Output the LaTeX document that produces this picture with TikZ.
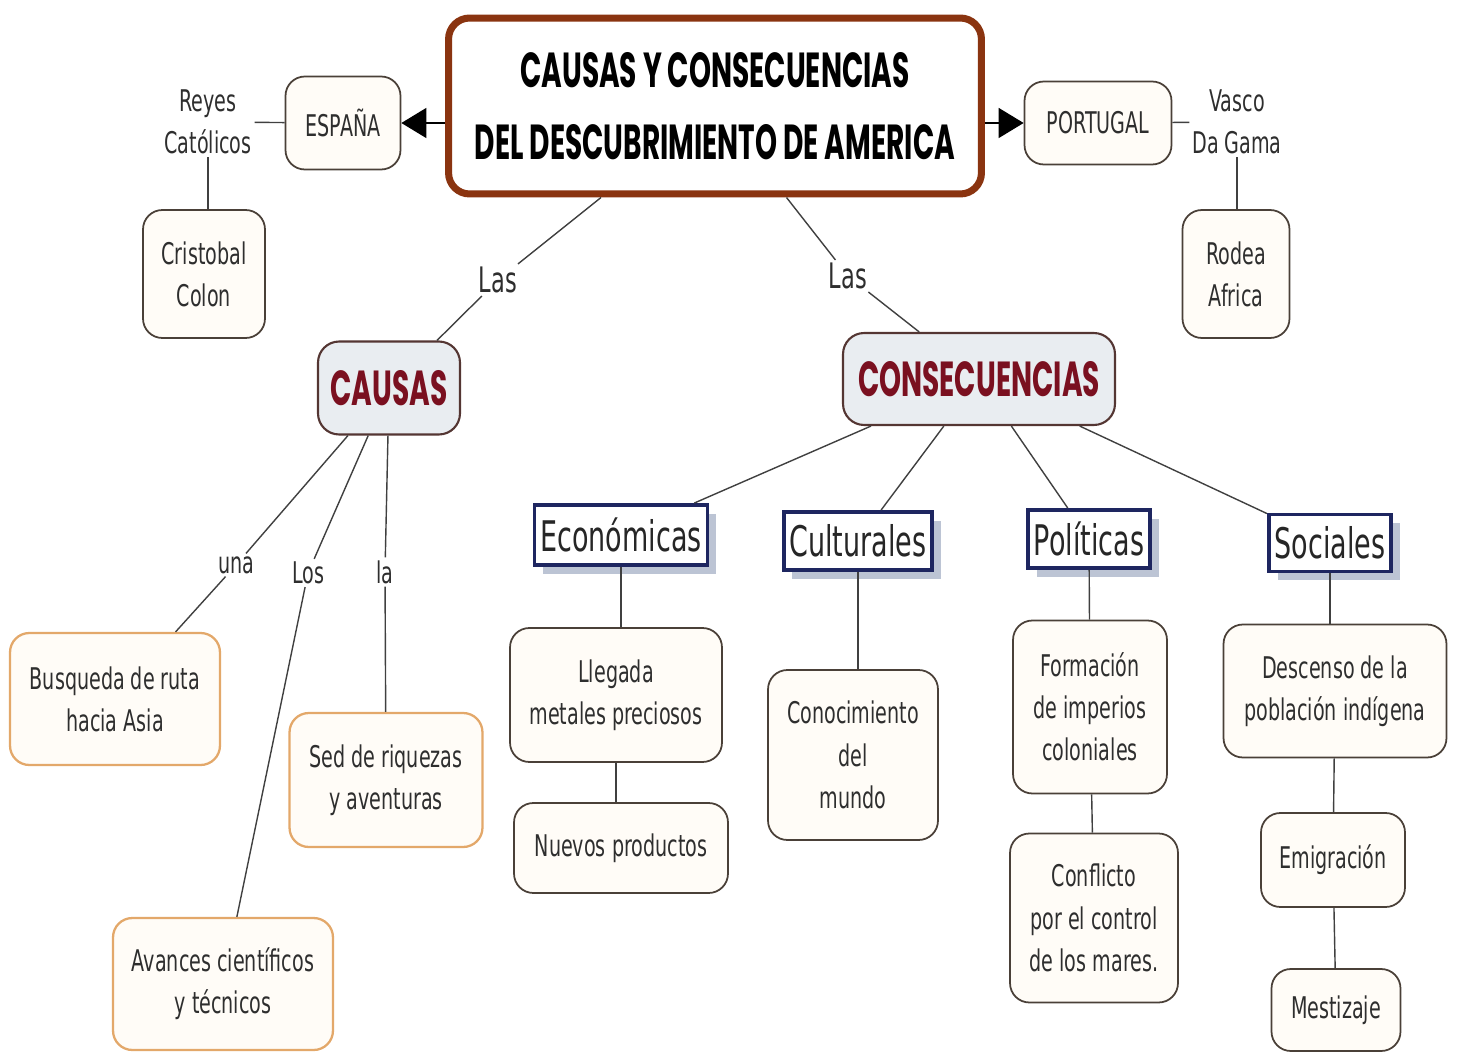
\documentclass[tikz,border=0pt]{standalone}
\usepackage{fontspec}
\setmainfont{DejaVu Sans}[FakeStretch=0.64]
\newfontfamily\titlefont{Poppins}[FakeStretch=0.57]
\usepackage{tikz}
\usetikzlibrary{arrows.meta,shadows}
\definecolor{titleborder}{HTML}{8A3410}
\definecolor{mainred}{HTML}{7A1020}
\definecolor{mainfill}{HTML}{E9EDF1}
\definecolor{catblue}{HTML}{1E2660}
\definecolor{catshadow}{HTML}{BCC4D4}
\definecolor{leafborder}{HTML}{4A4038}
\definecolor{leaffill}{HTML}{FFFCF7}
\definecolor{causeborder}{HTML}{E3A86A}
\definecolor{inktext}{HTML}{2E2E2E}

\begin{document}
\begin{tikzpicture}[x=0.02cm, y=-0.02cm,
  titlebox/.style={draw=titleborder, line width=4pt, rounded corners=12pt, fill=white, align=center, font=\titlefont\bfseries\fontsize{28}{41}\selectfont},
  mainbox/.style={draw=leafborder!80!mainred, line width=1.2pt, rounded corners=12pt, fill=mainfill, text=mainred, font=\titlefont\bfseries\fontsize{28}{34}\selectfont},
  catbox/.style={draw=catblue, line width=2.2pt, fill=white, text=black!85, font=\fontsize{24}{28}\selectfont, drop shadow={fill=catshadow, shadow xshift=5pt, shadow yshift=-5pt, opacity=1}},
  leaf/.style={draw=leafborder, line width=1pt, rounded corners=11pt, fill=leaffill, align=center, text=inktext, font=\fontsize{17}{24}\selectfont},
  causeleaf/.style={leaf, draw=causeborder, line width=1.3pt},
  lbl/.style={fill=white, inner sep=1.5pt, align=center, text=inktext, font=\fontsize{17}{24}\selectfont},
  biglbl/.style={lbl, font=\fontsize{20}{24}\selectfont},
  con/.style={draw=black!75, line width=0.8pt},
  arr/.style={draw=black, line width=0.8pt, -{Triangle[length=5mm, width=6mm]}}
]
  \useasboundingbox (0,0) rectangle (1458,1054);

  % top: title with Spain and Portugal
  \node[titlebox, minimum width=10.66cm, minimum height=3.52cm] (title) at (715,106) {CAUSAS Y CONSECUENCIAS\\DEL DESCUBRIMIENTO DE AMERICA};
  \node[leaf, minimum width=2.3cm, minimum height=1.86cm] (espana) at (343,123) {ESPAÑA};
  \node[leaf, minimum width=2.94cm, minimum height=1.66cm] (portugal) at (1098,123) {PORTUGAL};
  \node[lbl] (reyes) at (208,122) {Reyes\\Católicos};
  \node[lbl] (vasco) at (1237,122) {Vasco\\Da Gama};
  \node[leaf, minimum width=2.44cm, minimum height=2.56cm] (colon) at (204,274) {Cristobal\\Colon};
  \node[leaf, minimum width=2.14cm, minimum height=2.56cm] (africa) at (1236,274) {Rodea\\Africa};

  % causes and consequences
  \node[biglbl] (las1) at (498,280) {Las};
  \node[biglbl] (las2) at (848,276) {Las};
  \node[mainbox, minimum width=2.84cm, minimum height=1.86cm] (causas) at (389,388) {CAUSAS};
  \node[mainbox, minimum width=5.44cm, minimum height=1.84cm] (consec) at (979,379) {CONSECUENCIAS};

  % causes
  \node[lbl] (una) at (236,565) {una};
  \node[lbl] (los) at (308,573) {Los};
  \node[lbl] (la) at (385,572) {la};
  \node[causeleaf, minimum width=4.2cm, minimum height=2.64cm] (asia) at (115,699) {Busqueda de ruta\\hacia Asia};
  \node[causeleaf, minimum width=3.86cm, minimum height=2.68cm] (sed) at (386,780) {Sed de riquezas\\y aventuras};
  \node[causeleaf, minimum width=4.4cm, minimum height=2.64cm] (avances) at (223,984) {Avances científicos\\y técnicos};

  % consequence groups
  \node[catbox, minimum width=3.46cm, minimum height=1.2cm] (econ) at (621,535) {Económicas};
  \node[catbox, minimum width=2.94cm, minimum height=1.16cm] (cult) at (858,541) {Culturales};
  \node[catbox, minimum width=2.44cm, minimum height=1.16cm] (pol) at (1089,539) {Políticas};
  \node[catbox, minimum width=2.4cm, minimum height=1.14cm] (soc) at (1330,543) {Sociales};

  \node[leaf, minimum width=4.24cm, minimum height=2.68cm] (metales) at (616,695) {Llegada\\metales preciosos};
  \node[leaf, minimum width=4.28cm, minimum height=1.8cm] (productos) at (621,848) {Nuevos productos};
  \node[leaf, minimum width=3.4cm, minimum height=3.4cm] (mundo) at (853,755) {Conocimiento\\del\\mundo};
  \node[leaf, minimum width=3.08cm, minimum height=3.46cm] (imperios) at (1090,707) {Formación\\de imperios\\coloniales};
  \node[leaf, minimum width=3.36cm, minimum height=3.38cm] (mares) at (1094,918) {Conflicto\\por el control\\de los mares.};
  \node[leaf, minimum width=4.46cm, minimum height=2.66cm] (descenso) at (1335,691) {Descenso de la\\población indígena};
  \node[leaf, minimum width=2.88cm, minimum height=1.88cm] (emigra) at (1333,860) {Emigración};
  \node[leaf, minimum width=2.58cm, minimum height=1.64cm] (mestizo) at (1336,1010) {Mestizaje};

  % connectors
  \draw[arr] (title.west |- espana.east) -- (espana.east);
  \draw[arr] (title.east |- portugal.west) -- (portugal.west);
  \draw[con] (reyes) -- (espana);
  \draw[con] (reyes) -- (reyes |- colon.north);
  \draw[con] (portugal) -- (vasco);
  \draw[con] (vasco) -- (vasco |- africa.north);

  \draw[con] (title) -- (las1) -- (causas);
  \draw[con] (title) -- (las2) -- (consec);

  \draw[con] (causas) -- (una) -- (asia);
  \draw[con] (causas) -- (los) -- (avances);
  \draw[con] (causas) -- (la) -- (sed);

  \draw[con] (consec) -- (econ);
  \draw[con] (consec) -- (cult);
  \draw[con] (consec) -- (pol);
  \draw[con] (consec) -- (soc);

  \draw[con] (econ) -- (econ |- metales.north);
  \draw[con] (metales) -- (metales |- productos.north);
  \draw[con] (cult) -- (cult |- mundo.north);
  \draw[con] (pol) -- (imperios);
  \draw[con] (imperios) -- (mares);
  \draw[con] (soc) -- (soc |- descenso.north);
  \draw[con] (descenso) -- (emigra);
  \draw[con] (emigra) -- (mestizo);
\end{tikzpicture}
\end{document}
